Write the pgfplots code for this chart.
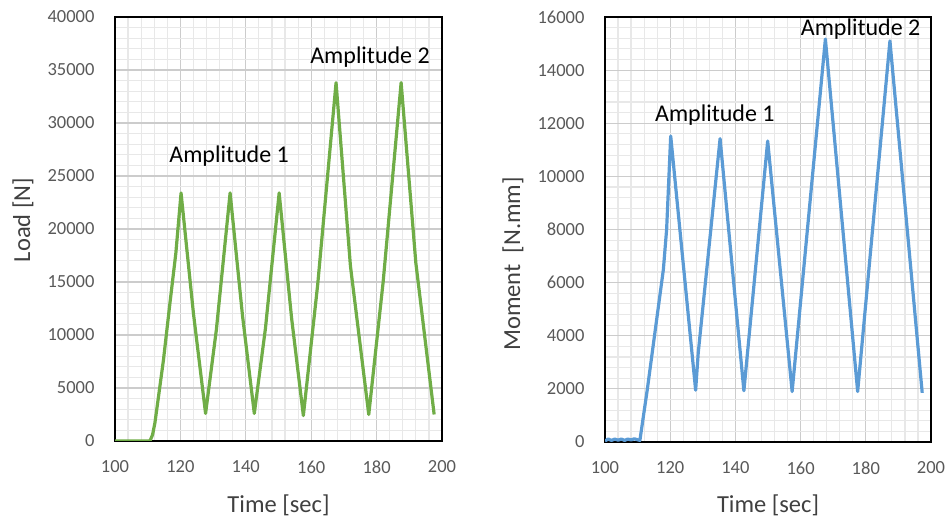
\documentclass[border=0pt]{standalone}
\usepackage{fontspec}
\setmainfont{Carlito}
\usepackage{pgfplots}
\pgfplotsset{compat=1.18}
\definecolor{exgreen}{HTML}{70AD47}
\definecolor{exblue}{HTML}{5B9BD5}
\definecolor{ticktxt}{HTML}{595959}
\definecolor{labtxt}{HTML}{404040}
\pgfplotsset{
  common/.style={
    scale only axis,
    xmin=100, xmax=200,
    xtick={100,120,...,200},
    minor x tick num=4,
    minor y tick num=4,
    grid=both,
    major grid style={color=black!20, line width=1.2pt},
    minor grid style={color=black!9, line width=1.2pt},
    major tick length=0pt, minor tick length=0pt,
    axis line style={black, line width=1.4pt},
    scaled y ticks=false,
    /pgf/number format/assume math mode=true,
    /pgf/number format/1000 sep={},
    tick label style={font=\fontsize{18.5}{20}\selectfont, text=ticktxt},
    yticklabel style={xshift=-17pt},
    xticklabel style={yshift=-16pt},
  }
}
\begin{document}
\begin{tikzpicture}[x=1pt,y=1pt]
\useasboundingbox (0,0) rectangle (949,518);
\begin{axis}[common,
  at={(115pt,77pt)}, anchor=south west,
  width=327pt, height=424pt,
  ymin=0, ymax=40000, ytick={0,5000,...,40000}]
\addplot[exgreen, line width=3.2pt, line join=round] coordinates {
(100,0) (110.7,0) (111.5,600) (112.2,1700) (113,3500) (114.8,7600) (116.8,13000) (118.6,17700) (120.2,23400)
(124,12000) (127.7,2600) (131,10500) (135.2,23400) (139,11800) (142.6,2600) (146,10600) (150.2,23400) (154,11600) (157.6,2400)
(162,14800) (167.6,33800) (172,16500) (177.6,2500) (182,15000) (187.5,33800) (192,16800) (197.6,2500)
};
\node[font=\fontsize{24}{26}\selectfont, text=black] at (axis cs:134.9,26900) {Amplitude 1};
\node[font=\fontsize{24}{26}\selectfont, text=black] at (axis cs:178,36230) {Amplitude 2};
\end{axis}
\begin{axis}[common,
  at={(605pt,76pt)}, anchor=south west,
  width=326pt, height=425pt,
  ymin=0, ymax=16000, ytick={0,2000,...,16000}]
\addplot[exblue, line width=3.2pt, line join=round] coordinates {
(100,40) (101,110) (102,60) (103,110) (104,70) (105,110) (106,60) (107,110) (108,80) (109,120) (110.7,60)
(113,2000) (115.3,4110) (117.9,6490) (118.9,8000) (120.15,11520)
(127.8,1950) (128.6,3360) (135.3,11420) (142.6,1930) (149.9,11330) (157.4,1900)
(167.6,15170) (177.5,1900) (187.4,15100) (197.3,1850)
};
\node[font=\fontsize{24}{26}\selectfont, text=black] at (axis cs:133.7,12310) {Amplitude 1};
\node[font=\fontsize{24}{26}\selectfont, text=black] at (axis cs:178.4,15550) {Amplitude 2};
\end{axis}
\node[font=\fontsize{24.5}{26}\selectfont, text=labtxt] at (278.5,13) {Time [sec]};
\node[font=\fontsize{24.5}{26}\selectfont, text=labtxt] at (768,13) {Time [sec]};
\node[font=\fontsize{24.5}{26}\selectfont, text=labtxt, rotate=90] at (23,298) {Load [N]};
\node[font=\fontsize{24.5}{26}\selectfont, text=labtxt, rotate=90] at (513,254) {Moment\ \ [N.mm]};
\end{tikzpicture}
\end{document}
